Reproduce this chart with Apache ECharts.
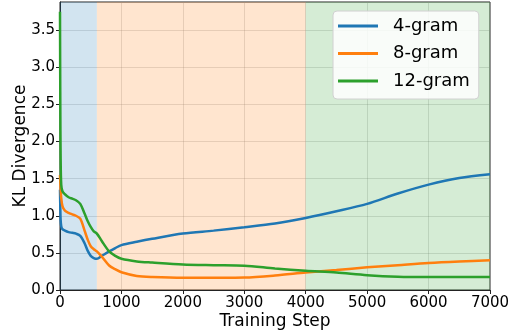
<!DOCTYPE html>
<html>
<head>
<meta charset="utf-8">
<script src="https://cdn.jsdelivr.net/npm/echarts@6/dist/echarts.min.js"></script>
<style>
html,body{margin:0;padding:0;background:#fff;}
#chart{width:509px;height:335px;}
</style>
</head>
<body>
<div id="chart"></div>
<script>
var steps = [0, 5, 10, 20, 40, 80, 140, 200, 260, 330, 400, 450, 500, 550, 600, 680, 800, 900, 1000, 1250, 1500, 2000, 2500, 3000, 3500, 4000, 4500, 5000, 5500, 6000, 6500, 7000];
var gram4 = [1.35, 1.1, 0.95, 0.86, 0.82, 0.80, 0.78, 0.77, 0.76, 0.73, 0.63, 0.53, 0.46, 0.43, 0.42, 0.46, 0.52, 0.565, 0.605, 0.65, 0.69, 0.76, 0.80, 0.845, 0.895, 0.97, 1.06, 1.16, 1.30, 1.42, 1.51, 1.56];
var gram8 = [1.55, 1.45, 1.38, 1.24, 1.13, 1.07, 1.04, 1.02, 1.00, 0.96, 0.80, 0.68, 0.59, 0.55, 0.52, 0.45, 0.33, 0.28, 0.24, 0.19, 0.175, 0.164, 0.165, 0.168, 0.195, 0.235, 0.27, 0.305, 0.335, 0.365, 0.385, 0.40];
var gram12 = [3.75, 2.5, 1.8, 1.42, 1.33, 1.29, 1.25, 1.23, 1.21, 1.16, 1.03, 0.93, 0.85, 0.79, 0.76, 0.66, 0.52, 0.46, 0.42, 0.385, 0.37, 0.345, 0.335, 0.327, 0.29, 0.26, 0.235, 0.20, 0.18, 0.176, 0.176, 0.176];
var seriesNames = ['4-gram', '8-gram', '12-gram'];
var phaseBounds = [0, 600, 4000, 7000];
var xTicks = [0, 1000, 2000, 3000, 4000, 5000, 6000, 7000];
var yTicks = [0.0, 0.5, 1.0, 1.5, 2.0, 2.5, 3.0, 3.5];

var colors = ['#1f77b4', '#ff7f0e', '#2ca02c'];
var phaseColors = ['rgba(31,119,180,0.2)', 'rgba(255,127,14,0.2)', 'rgba(44,160,44,0.2)'];
var font = 'DejaVu Sans';

function pts(vals) { return steps.map(function (s, i) { return [s, vals[i]]; }); }

var areas = [];
for (var i = 0; i < 3; i++) {
  areas.push([{ xAxis: phaseBounds[i], itemStyle: { color: phaseColors[i] } }, { xAxis: phaseBounds[i + 1] }]);
}

var allVals = [gram4, gram8, gram12];
var series = [{
  name: 'phases', type: 'line', data: [], silent: true,
  markArea: { silent: true, data: areas, label: { show: false } }
}];
for (var k = 0; k < 3; k++) {
  series.push({
    name: seriesNames[k], type: 'line', data: pts(allVals[k]),
    showSymbol: false, smooth: 0.3,
    lineStyle: { width: 2.5, color: colors[k] }, itemStyle: { color: colors[k] },
    z: 3
  });
}

var chart = echarts.init(document.getElementById('chart'), null, { renderer: 'canvas' });
chart.setOption({
  animation: false,
  textStyle: { fontFamily: font },
  grid: { left: 60, right: 19, top: 2, bottom: 45, outerBoundsMode: 'none', containLabel: false, show: true, borderColor: '#222', borderWidth: 1, backgroundColor: 'transparent' },
  legend: {
    data: seriesNames, orient: 'vertical', left: 333, top: 11,
    icon: 'rect', itemWidth: 40, itemHeight: 3, itemGap: 9.5,
    padding: [6, 9, 9, 5],
    backgroundColor: 'rgba(255,255,255,0.85)', borderColor: '#d0d0d0', borderWidth: 1, borderRadius: 4,
    textStyle: { fontFamily: font, fontSize: 18, color: '#000', padding: [0, 0, 0, 10] }
  },
  xAxis: {
    type: 'value', min: xTicks[0], max: xTicks[xTicks.length - 1], interval: 1000,
    name: 'Training Step', nameLocation: 'middle', nameGap: 23, nameMoveOverlap: false,
    nameTextStyle: { fontFamily: font, fontSize: 17, color: '#000' },
    axisLine: { show: true, lineStyle: { color: '#222', width: 1 } },
    axisTick: { show: true, inside: false, length: 4, lineStyle: { color: '#222' } },
    axisLabel: { fontFamily: font, fontSize: 15, color: '#000', margin: 6, formatter: function (v) { return String(v); } },
    splitLine: { show: true, lineStyle: { color: 'rgba(150,150,150,0.3)', width: 1 } }
  },
  yAxis: {
    type: 'value', min: 0, max: 3.88, interval: 0.5,
    name: 'KL Divergence', nameLocation: 'middle', nameGap: 31, nameMoveOverlap: false,
    nameTextStyle: { fontFamily: font, fontSize: 17, color: '#000' },
    axisLine: { show: true, lineStyle: { color: '#222', width: 1 } },
    axisTick: { show: true, inside: false, length: 4, lineStyle: { color: '#222' } },
    axisLabel: {
      fontFamily: font, fontSize: 15, color: '#000', margin: 5, showMaxLabel: false,
      formatter: function (v) {
        for (var j = 0; j < yTicks.length; j++) { if (Math.abs(v - yTicks[j]) < 1e-6) return yTicks[j].toFixed(1); }
        return '';
      }
    },
    splitLine: { show: true, lineStyle: { color: 'rgba(150,150,150,0.3)', width: 1 } }
  },
  series: series
});
</script>
</body>
</html>
